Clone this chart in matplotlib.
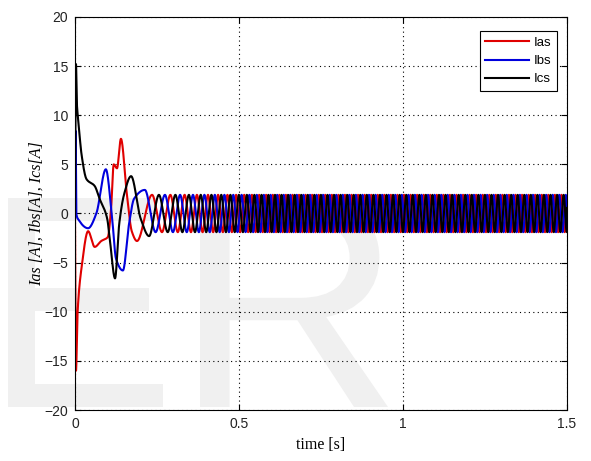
import numpy as np
import matplotlib.pyplot as plt
from matplotlib.textpath import TextPath
from matplotlib.patches import PathPatch
from matplotlib.font_manager import FontProperties
from matplotlib.transforms import Affine2D

# transient part: (time [s], current [A])
ias_t = [0.0, 0.003, 0.008, 0.020, 0.040, 0.060, 0.080, 0.100, 0.110, 0.118, 0.128, 0.140, 0.158, 0.173, 0.189]
ias_v = [0.0, -16.0, -10.0, -5.5, -1.8, -3.4, -2.8, -2.4, 0.5, 5.0, 4.6, 7.6, 2.0, -1.8, -2.8]

ibs_t = [0.0, 0.002, 0.004, 0.010, 0.040, 0.065, 0.094, 0.112, 0.125, 0.146, 0.165, 0.180, 0.213]
ibs_v = [0.0, 8.4, 0.0, -0.6, -1.5, 0.0, 4.5, 0.0, -4.6, -5.8, -1.0, 1.5, 2.4]

ics_t = [0.0, 0.003, 0.006, 0.010, 0.020, 0.035, 0.060, 0.075, 0.098, 0.107, 0.122, 0.135, 0.150, 0.171, 0.200, 0.226]
ics_v = [0.0, 15.2, 11.0, 9.5, 6.0, 3.5, 2.8, 1.5, -0.5, -2.9, -6.6, -1.0, 2.0, 3.8, -0.5, -2.3]

# steady state: amplitude, supply frequency ramp and first Ias peak
amp = 1.9
ramp_t = [0.0, 0.2, 0.3, 0.45, 0.6, 1.5]
ramp_hz = [6.0, 11.0, 22.0, 35.0, 50.0, 50.0]
ias_first_peak = 0.235

x_ticks = [0, 0.5, 1, 1.5]
y_ticks = [-20, -15, -10, -5, 0, 5, 10, 15, 20]


def pchip(x, y, xn):
    x = np.asarray(x, float)
    y = np.asarray(y, float)
    h = np.diff(x)
    d = np.diff(y) / h
    m = np.zeros_like(y)
    for k in range(1, len(x) - 1):
        if d[k - 1] * d[k] > 0:
            w1 = 2 * h[k] + h[k - 1]
            w2 = h[k] + 2 * h[k - 1]
            m[k] = (w1 + w2) / (w1 / d[k - 1] + w2 / d[k])
    m[0] = d[0]
    m[-1] = 0
    i = np.clip(np.searchsorted(x, xn) - 1, 0, len(h) - 1)
    s = (xn - x[i]) / h[i]
    h00 = 2 * s**3 - 3 * s**2 + 1
    h10 = s**3 - 2 * s**2 + s
    h01 = -2 * s**3 + 3 * s**2
    h11 = s**3 - s**2
    return h00 * y[i] + h10 * h[i] * m[i] + h01 * y[i + 1] + h11 * h[i] * m[i + 1]


tt = np.linspace(0, 1.5, 30001)
theta = 2 * np.pi * np.cumsum(np.interp(tt, ramp_t, ramp_hz)) * (tt[1] - tt[0])
phi_a = -np.interp(ias_first_peak, tt, theta)


def full_wave(kt, kv, phi):
    kt = list(kt)
    kv = list(kv)
    t_end = kt[-1]
    ks = np.arange(-20, int(theta[-1] / np.pi) + 40)
    targets = ks * np.pi - phi
    ok = (targets > 0) & (targets < theta[-1] + 2 * np.pi)
    et = np.interp(targets[ok], theta, tt, right=np.nan)
    ev = amp * np.where(ks[ok] % 2 == 0, 1.0, -1.0)
    for t, v in zip(et, ev):
        if np.isnan(t):
            break
        if t > t_end + 0.012 and (v * kv[-1] < 0):
            kt.append(t)
            kv.append(v)
            t_end = -1.0
    if kt[-1] < 1.5:
        kt.append(1.5)
        kv.append(-kv[-1] * 0.3)
    return pchip(kt, kv, tt)


ias = full_wave(ias_t, ias_v, phi_a)
ibs = full_wave(ibs_t, ibs_v, phi_a + 2 * np.pi / 3)
ics = full_wave(ics_t, ics_v, phi_a - 2 * np.pi / 3)

fig = plt.figure(figsize=(5.91, 4.61), dpi=100)
H = 461

# "ER" watermark, boxes in pixels (left, top, right, bottom)
prop = FontProperties(family='Liberation Sans')
for letter, box in [('E', (8, 198, 163, 407)), ('R', (200, 198, 388, 407))]:
    p = TextPath((0, 0), letter, size=100, prop=prop)
    ext = p.get_extents()
    sx = (box[2] - box[0]) / ext.width
    sy = (box[3] - box[1]) / ext.height
    tr = Affine2D().translate(-ext.x0, -ext.y0).scale(sx, sy).translate(box[0], H - box[3])
    fig.add_artist(PathPatch(tr.transform_path(p), facecolor='#f0f0f0', edgecolor='none',
                             transform=None, zorder=0))

ax = fig.add_axes([75 / 591, 1 - 410 / 461, (567 - 75) / 591, (410 - 17) / 461])
ax.set_facecolor('none')
ax.set_zorder(1)

ax.plot(tt, ias, color='#e00000', lw=1.5, label='Ias')
ax.plot(tt, ibs, color='#0000dd', lw=1.5, label='Ibs')
ax.plot(tt, ics, color='black', lw=1.5, label='Ics')

ax.set_xlim(0, 1.5)
ax.set_ylim(-20, 20)
ax.set_xticks(x_ticks)
ax.set_xticklabels(['0', '0.5', '1', '1.5'])
ax.set_yticks(y_ticks)
ax.tick_params(direction='in', top=True, right=True, labelsize=10, length=4,
               labelcolor='#222222', pad=5)
for lab in ax.get_xticklabels() + ax.get_yticklabels():
    lab.set_family('Liberation Sans')
ax.grid(True, color='black', linestyle=(0, (1, 3)), linewidth=0.8)
for s in ax.spines.values():
    s.set_linewidth(0.8)

ax.set_xlabel('time [s]', family='Liberation Serif', fontsize=11.5)
ax.set_ylabel('Ias [A], Ibs[A], Ics[A]', family='Liberation Serif', style='italic',
              fontsize=11.5, labelpad=0)

leg = ax.legend(loc='upper right', bbox_to_anchor=(0.993, 0.98), fancybox=False,
                prop={'family': 'Liberation Sans', 'size': 9.5}, handlelength=3.3,
                labelspacing=0.45, borderpad=0.4, handletextpad=0.4, framealpha=1)
leg.get_frame().set_edgecolor('black')
leg.get_frame().set_linewidth(0.8)

fig.savefig('out.png', dpi=100)
